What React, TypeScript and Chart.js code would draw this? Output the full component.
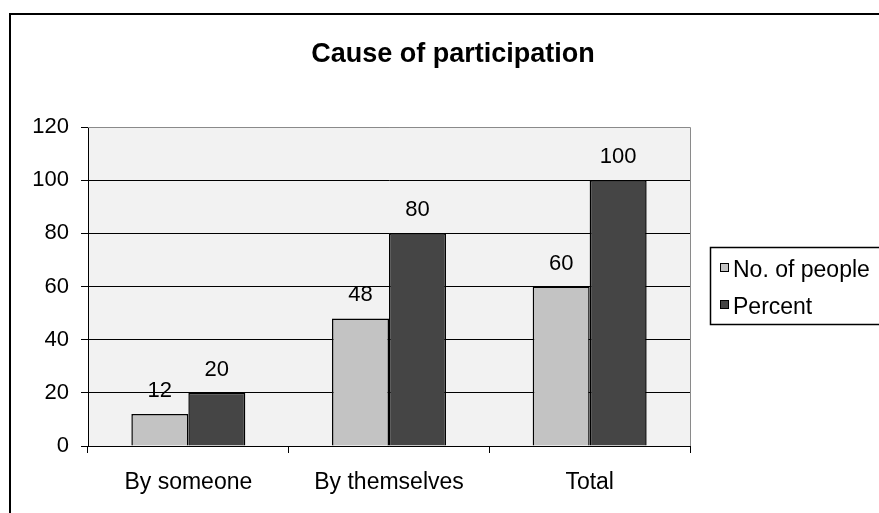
import React, { useEffect, useRef } from "react";
import { Chart, registerables } from "chart.js";

Chart.register(...registerables);

const categories = ["By someone", "By themselves", "Total"];
const peopleCounts = [12, 48, 60];
const percentValues = [20, 80, 100];
const seriesNames = ["No. of people", "Percent"];
const seriesColors = ["#c3c3c3", "#454545"];
const chartTitle = "Cause of participation";

const FONT = "'Liberation Sans', Arial, sans-serif";

// Frame, plot background, title, value labels and the boxed legend
const decorations = {
  id: "decorations",
  beforeDraw(chart: any) {
    const { ctx, chartArea } = chart;
    ctx.save();
    ctx.fillStyle = "#ffffff";
    ctx.fillRect(0, 0, chart.width, chart.height);
    ctx.fillStyle = "#f2f2f2";
    ctx.fillRect(chartArea.left, chartArea.top, chartArea.right - chartArea.left, chartArea.bottom - chartArea.top);
    ctx.restore();
  },
  afterDatasetsDraw(chart: any) {
    const { ctx } = chart;
    ctx.save();
    ctx.font = `22px ${FONT}`;
    ctx.fillStyle = "#000";
    ctx.textAlign = "center";
    ctx.textBaseline = "alphabetic";
    chart.data.datasets.forEach((ds: any, di: number) => {
      const meta = chart.getDatasetMeta(di);
      meta.data.forEach((bar: any, i: number) => {
        ctx.fillText(String(ds.data[i]), bar.x, bar.y - 17);
      });
    });
    ctx.restore();
  },
  afterDraw(chart: any) {
    const { ctx, chartArea } = chart;
    ctx.save();
    // plot area top/right edge
    ctx.strokeStyle = "#8a8a8a";
    ctx.lineWidth = 1;
    ctx.beginPath();
    ctx.moveTo(chartArea.left, chartArea.top + 0.5);
    ctx.lineTo(chartArea.right + 0.5, chartArea.top + 0.5);
    ctx.lineTo(chartArea.right + 0.5, chartArea.bottom);
    ctx.stroke();

    // outer frame
    ctx.strokeStyle = "#000";
    ctx.lineWidth = 2;
    ctx.strokeRect(10, 14, chart.width + 20, chart.height + 20);

    // title
    ctx.fillStyle = "#000";
    ctx.font = `bold 27px ${FONT}`;
    ctx.textAlign = "center";
    ctx.textBaseline = "alphabetic";
    ctx.fillText(chartTitle, 453, 62);

    // legend
    ctx.lineWidth = 1.5;
    ctx.strokeRect(710.5, 247.5, 200, 77);
    ctx.font = `23px ${FONT}`;
    ctx.textAlign = "left";
    const rows = [263, 300];
    chart.data.datasets.forEach((ds: any, i: number) => {
      const y = rows[i];
      ctx.fillStyle = ds.backgroundColor;
      ctx.fillRect(720, y, 9, 9);
      ctx.strokeStyle = "#000";
      ctx.lineWidth = 1;
      ctx.strokeRect(720.5, y + 0.5, 8, 8);
      ctx.fillStyle = "#000";
      ctx.fillText(ds.label, 733, y + 14);
    });
    ctx.restore();
  },
};

export default function App() {
  const ref = useRef<HTMLCanvasElement | null>(null);

  useEffect(() => {
    if (!ref.current) return;
    const chart = new Chart(ref.current, {
      type: "bar",
      data: {
        labels: categories,
        datasets: [
          {
            label: seriesNames[0],
            data: peopleCounts,
            backgroundColor: seriesColors[0],
            borderColor: "#000",
            borderWidth: 1.5,
          },
          {
            label: seriesNames[1],
            data: percentValues,
            backgroundColor: seriesColors[1],
            borderColor: "#000",
            borderWidth: 1.5,
          },
        ],
      },
      options: {
        responsive: false,
        animation: false,
        layout: { padding: { left: 8, top: 127, right: 189, bottom: 0 } },
        datasets: {
          bar: { categoryPercentage: 0.568, barPercentage: 1 },
        },
        plugins: {
          legend: { display: false },
          title: { display: false },
          tooltip: { enabled: false },
        },
        scales: {
          x: {
            offset: true,
            afterFit: (s: any) => {
              s.height = 67;
            },
            grid: {
              offset: true,
              drawOnChartArea: false,
              drawTicks: true,
              tickLength: 7,
              color: "#000",
              tickColor: "#000",
            },
            border: { display: true, color: "#000", width: 1 },
            ticks: {
              color: "#000",
              font: { family: FONT, size: 23 },
              padding: 16,
              maxRotation: 0,
            },
          },
          y: {
            min: 0,
            max: 120,
            afterFit: (s: any) => {
              s.width = 80;
            },
            grid: {
              color: (c: any) => (c.tick && c.tick.value === 120 ? "#8a8a8a" : "#000"),
              tickColor: "#000",
              tickLength: 7,
              drawTicks: true,
            },
            border: { display: true, color: "#000", width: 1 },
            ticks: {
              stepSize: 20,
              color: "#000",
              font: { family: FONT, size: 22 },
              padding: 12,
            },
          },
        },
      },
      plugins: [decorations],
    });
    return () => chart.destroy();
  }, []);

  return (
    <div style={{ position: "absolute", left: 0, top: 0, width: 879, height: 513 }}>
      <canvas ref={ref} width={879} height={513} style={{ display: "block" }} />
    </div>
  );
}
